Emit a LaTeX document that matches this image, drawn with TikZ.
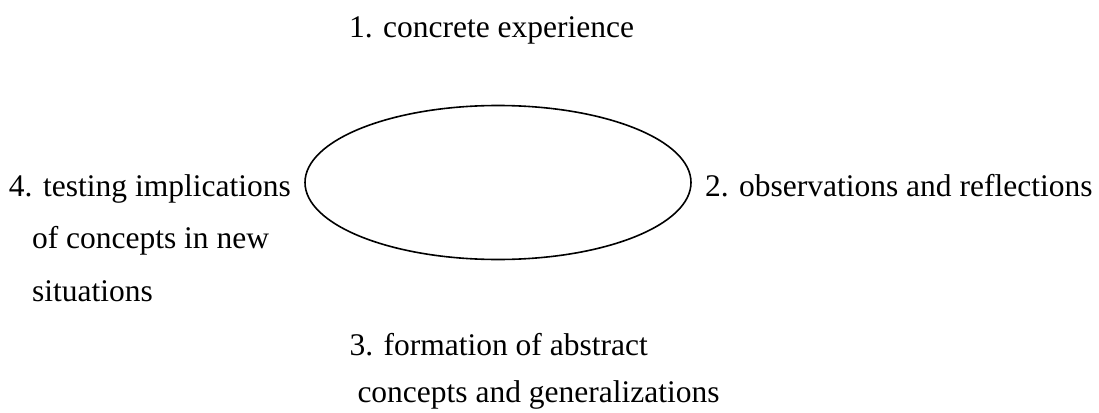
\documentclass[tikz,border=0pt]{standalone}
\usepackage{fontspec}
\setmainfont{Liberation Serif}
\begin{document}
\begin{tikzpicture}[x=1pt,y=1pt,
  lbl/.style={anchor=base west,inner sep=0pt,outer sep=0pt,font=\fontsize{31.5}{40}\selectfont},
  cyc/.style={draw=black,line width=1.6pt,ellipse}]
\useasboundingbox (0,0) rectangle (1099,-412);
\draw[line width=1.6pt] (498,-182.5) ellipse [x radius=193, y radius=77];
\node[lbl] (l1) at (349,-37.5) {1. concrete experience};
\node[lbl] (l2) at (705,-196.5) {2. observations and reflections};
\node[lbl] (l3a) at (349.5,-355) {3. formation of abstract};
\node[lbl] (l3b) at (357.5,-402.5) {concepts and generalizations};
\node[lbl] (l4a) at (9,-196.5) {4. testing implications};
\node[lbl] (l4b) at (32,-248.5) {of concepts in new};
\node[lbl] (l4c) at (32,-301) {situations};
\end{tikzpicture}
\end{document}
